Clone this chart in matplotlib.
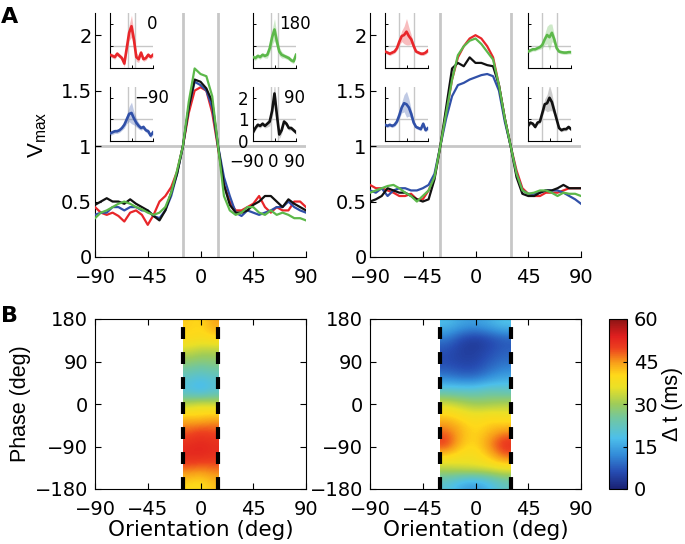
import matplotlib
matplotlib.use('Agg')
import matplotlib.pyplot as plt
from matplotlib.colors import LinearSegmentedColormap
import numpy as np

# horizontal text is slightly wide in the original, DejaVu gives that shape
plt.rcParams['font.family'] = ['DejaVu Sans']
plt.rcParams['font.size'] = 14
plt.rcParams['lines.scale_dashes'] = False
VFONT = ['Liberation Sans', 'DejaVu Sans']

# ---- data ----
ori = list(range(-90, 91, 5))
ori10 = list(range(-90, 91, 10))

# panel A, left (+-15 deg)
left_red = [0.45, 0.40, 0.38, 0.40, 0.37, 0.32, 0.40, 0.42, 0.38, 0.29, 0.38, 0.50, 0.55,
            0.63, 0.77, 1.00, 1.30, 1.50, 1.53, 1.50, 1.30, 0.98, 0.65, 0.50, 0.42, 0.42,
            0.45, 0.48, 0.55, 0.45, 0.40, 0.45, 0.42, 0.42, 0.50, 0.50, 0.45]
left_blue = [0.38, 0.40, 0.40, 0.45, 0.45, 0.42, 0.45, 0.45, 0.42, 0.42, 0.37, 0.35, 0.42,
             0.55, 0.75, 1.00, 1.35, 1.58, 1.55, 1.50, 1.35, 1.00, 0.72, 0.55, 0.40, 0.37,
             0.42, 0.40, 0.38, 0.40, 0.42, 0.45, 0.45, 0.50, 0.45, 0.42, 0.40]
left_black = [0.47, 0.50, 0.53, 0.50, 0.50, 0.48, 0.52, 0.48, 0.45, 0.42, 0.37, 0.33, 0.42,
              0.58, 0.75, 1.00, 1.35, 1.60, 1.58, 1.52, 1.40, 1.00, 0.65, 0.47, 0.40, 0.40,
              0.42, 0.47, 0.50, 0.55, 0.55, 0.50, 0.45, 0.52, 0.48, 0.45, 0.42]
left_green = [0.35, 0.40, 0.42, 0.45, 0.48, 0.50, 0.48, 0.45, 0.43, 0.40, 0.38, 0.40, 0.45,
              0.58, 0.78, 1.00, 1.40, 1.70, 1.65, 1.63, 1.45, 1.00, 0.55, 0.42, 0.38, 0.40,
              0.45, 0.45, 0.40, 0.38, 0.42, 0.38, 0.40, 0.38, 0.35, 0.35, 0.33]

# panel A, right (+-30 deg)
right_red = [0.65, 0.62, 0.62, 0.60, 0.58, 0.55, 0.55, 0.57, 0.52, 0.52, 0.60, 0.72, 1.00,
             1.30, 1.60, 1.80, 1.90, 1.97, 2.00, 1.97, 1.90, 1.80, 1.55, 1.25, 1.00, 0.78,
             0.62, 0.57, 0.55, 0.55, 0.58, 0.58, 0.58, 0.60, 0.62, 0.62, 0.62]
right_blue = [0.60, 0.58, 0.62, 0.55, 0.60, 0.62, 0.62, 0.60, 0.60, 0.62, 0.65, 0.75, 1.00,
              1.25, 1.45, 1.55, 1.57, 1.60, 1.62, 1.64, 1.65, 1.63, 1.50, 1.22, 1.00, 0.75,
              0.60, 0.57, 0.57, 0.58, 0.60, 0.60, 0.60, 0.58, 0.55, 0.52, 0.48]
right_black = [0.50, 0.52, 0.55, 0.62, 0.60, 0.58, 0.58, 0.55, 0.52, 0.50, 0.52, 0.70, 1.00,
               1.35, 1.70, 1.75, 1.72, 1.80, 1.75, 1.75, 1.73, 1.72, 1.55, 1.25, 1.00, 0.72,
               0.57, 0.55, 0.55, 0.58, 0.60, 0.60, 0.62, 0.65, 0.62, 0.62, 0.62]
right_green = [0.58, 0.60, 0.62, 0.64, 0.65, 0.62, 0.58, 0.55, 0.50, 0.55, 0.60, 0.72, 1.00,
               1.30, 1.60, 1.82, 1.90, 1.95, 1.97, 1.92, 1.85, 1.78, 1.55, 1.25, 1.00, 0.75,
               0.60, 0.57, 0.58, 0.60, 0.60, 0.58, 0.55, 0.58, 0.57, 0.57, 0.55]

# insets (single phases), mean and sem
in_left_red = [0.6, 0.55, 0.5, 0.65, 0.55, 0.45, 0.2, 0.9, 1.6, 1.9, 1.3, 0.5, 0.4, 0.7, 0.4, 0.45, 0.6, 0.5, 0.6]
in_left_blue = [0.35, 0.4, 0.45, 0.45, 0.5, 0.6, 0.75, 1.0, 1.25, 1.3, 1.05, 0.85, 0.7, 0.6, 0.65, 0.5, 0.45, 0.25, 0.4]
in_left_green = [0.5, 0.45, 0.55, 0.5, 0.6, 0.55, 0.6, 0.9, 1.4, 1.75, 1.2, 0.75, 0.6, 0.55, 0.5, 0.45, 0.35, 0.3, 0.6]
in_left_black = [0.4, 0.6, 0.75, 0.7, 0.8, 0.7, 0.8, 0.9, 1.4, 2.2, 1.2, 0.3, 0.5, 0.9, 0.8, 0.6, 0.6, 0.5, 0.4]
in_right_red = [0.75, 0.7, 0.65, 0.7, 0.75, 0.9, 1.2, 1.45, 1.5, 1.65, 1.45, 1.3, 1.0, 0.75, 0.7, 0.65, 0.65, 0.7, 0.8]
in_right_blue = [0.75, 0.7, 0.75, 0.7, 0.75, 0.9, 1.2, 1.55, 1.75, 1.7, 1.55, 1.25, 0.85, 0.65, 0.6, 0.55, 0.8, 0.5, 0.6]
in_right_green = [0.75, 0.8, 0.85, 0.85, 0.9, 0.95, 1.05, 1.3, 1.5, 1.4, 1.6, 1.3, 0.9, 0.75, 0.72, 0.7, 0.7, 0.72, 0.72]
in_right_black = [0.7, 0.85, 0.8, 0.65, 0.85, 0.9, 1.3, 1.7, 1.75, 2.0, 1.8, 1.4, 1.0, 0.6, 0.5, 0.55, 0.55, 0.65, 0.55]
sem_left = [0.1, 0.1, 0.1, 0.1, 0.1, 0.1, 0.15, 0.2, 0.35, 0.5, 0.3, 0.2, 0.15, 0.1, 0.1, 0.1, 0.1, 0.1, 0.1]
sem_right = [0.08, 0.08, 0.08, 0.08, 0.08, 0.1, 0.15, 0.25, 0.4, 0.6, 0.4, 0.2, 0.12, 0.08, 0.08, 0.08, 0.08, 0.08, 0.08]
inset_phase_labels = ['0', '\u221290', '180', '90']

# panel B, delay maps (rows: phase 180 -> -180 in 30 deg steps)
phase_ticks = [-180, -90, 0, 90, 180]
dt_ticks = [0, 15, 30, 45, 60]
dt_left = [[41, 40, 44], [40, 39, 40], [33, 31, 31], [27, 26, 27], [21, 19, 21], [18, 15, 19],
           [33, 36, 34], [42, 41, 43], [48, 50, 49], [52, 53, 52], [53, 53, 52], [47, 46, 47],
           [40, 39, 42]]
dt_right = [[18, 15, 14, 16, 19], [10, 5, 3, 5, 7], [6, 4, 4, 6, 8], [6, 5, 5, 8, 10],
            [11, 9, 9, 12, 15], [22, 22, 22, 24, 22], [35, 32, 30, 30, 32], [42, 40, 38, 40, 38],
            [47, 43, 40, 42, 44], [52, 42, 40, 46, 53], [40, 38, 38, 42, 48], [32, 34, 35, 35, 36],
            [20, 15, 13, 17, 22]]

c_red = '#e8262a'
c_blue = '#3050a8'
c_green = '#5cb84a'
c_black = '#111111'
c_gray = '0.78'

cmap = LinearSegmentedColormap.from_list('dt', [
    (0.00, (0.10, 0.13, 0.45)), (0.10, (0.15, 0.30, 0.70)), (0.20, (0.20, 0.55, 0.85)),
    (0.30, (0.30, 0.75, 0.92)), (0.42, (0.45, 0.78, 0.62)), (0.50, (0.62, 0.80, 0.35)),
    (0.60, (0.92, 0.88, 0.15)), (0.67, (1.00, 0.85, 0.10)), (0.75, (0.97, 0.60, 0.10)),
    (0.83, (0.93, 0.25, 0.12)), (0.90, (0.88, 0.12, 0.12)), (1.00, (0.55, 0.08, 0.08))])

W, H = 685, 544
fig = plt.figure(figsize=(W / 100, H / 100), dpi=100)


def px_axes(x0, y0, x1, y1):
    return fig.add_axes([x0 / W, 1 - y1 / H, (x1 - x0) / W, (y1 - y0) / H])


def main_panel(x0, half, curves, insets, inset_x, labels, sem, show_ticklabels):
    ax = px_axes(x0, 13, x0 + 211, 257)
    ax.axhline(1, color=c_gray, lw=2, zorder=1)
    ax.axvline(-half, color=c_gray, lw=2, zorder=1)
    ax.axvline(half, color=c_gray, lw=2, zorder=1)
    for ys, c in zip(curves, [c_red, c_blue, c_black, c_green]):
        ax.plot(ori, ys, color=c, lw=1.6, zorder=3)
    ax.set_xlim(-90, 90)
    ax.set_ylim(0, 2.2)
    ax.set_xticks([-90, -45, 0, 45, 90])
    ax.set_yticks([0, 0.5, 1, 1.5, 2])
    ax.set_yticklabels(['0', '0.5', '1', '1.5', '2'])
    ax.spines['top'].set_visible(False)
    ax.spines['right'].set_visible(False)
    ax.tick_params(direction='in', length=4, width=0.8)
    ax.tick_params(axis='x', pad=8)
    ax.tick_params(axis='y', pad=2.5)
    pos = [(inset_x[0], 13, 68), (inset_x[0], 87, 141), (inset_x[1], 13, 68), (inset_x[1], 87, 141)]
    cols = [c_red, c_blue, c_green, c_black]
    for (ix, iy0, iy1), ys, c, lab in zip(pos, insets, cols, labels):
        ia = px_axes(ix, iy0, ix + 43, iy1)
        ia.patch.set_alpha(0)
        ia.axhline(1, color=c_gray, lw=1, zorder=1)
        ia.axvline(-half, color=c_gray, lw=1, zorder=1)
        ia.axvline(half, color=c_gray, lw=1, zorder=1)
        lo = np.array(ys) - np.array(sem)
        hi = np.array(ys) + np.array(sem)
        if c == c_black:
            ia.fill_between(ori10, lo, hi, color='0.8', lw=0, zorder=2)
        else:
            ia.fill_between(ori10, lo, hi, color=c, alpha=0.3, lw=0, zorder=2)
        ia.plot(ori10, ys, color=c, lw=1.9, zorder=3)
        ia.set_xlim(-90, 90)
        ia.set_ylim(0, 2.5)
        ia.set_xticks([-90, 0, 90])
        ia.set_yticks([0, 1, 2])
        ia.spines['top'].set_visible(False)
        ia.spines['right'].set_visible(False)
        ia.tick_params(direction='in', length=2.5, width=0.7, pad=3, labelsize=12)
        ia.set_xticklabels([])
        if show_ticklabels and c == c_black:
            ia.set_yticklabels(['0', '1', '2'])
            for xf, t in zip([-0.14, 0.47, 0.97], ['\u221290', '0', '90']):
                ia.text(xf, -0.38, t, transform=ia.transAxes, ha='center', va='center', fontsize=12)
        else:
            ia.set_yticklabels([])
        if lab:
            ia.text(0.97, 0.8, lab, transform=ia.transAxes, ha='center', va='center', fontsize=12)
    return ax


axA1 = main_panel(95, 15, [left_red, left_blue, left_black, left_green],
                  [in_left_red, in_left_blue, in_left_green, in_left_black], (110, 253),
                  inset_phase_labels, sem_left, True)
axA1.set_ylabel('$\\mathregular{V_{max}}$', labelpad=8, fontsize=16, family=VFONT)

axA2 = main_panel(370, 30, [right_red, right_blue, right_black, right_green],
                  [in_right_red, in_right_blue, in_right_green, in_right_black], (385, 528),
                  [None, None, None, None], sem_right, False)


def map_panel(x0, half, data):
    ax = px_axes(x0, 319, x0 + 211, 489)
    im = ax.imshow(np.array(data), extent=[-half, half, -180, 180], aspect='auto',
                   cmap=cmap, vmin=0, vmax=60, interpolation='bicubic', zorder=1)
    for xv in (-half, half):
        ax.axvline(xv, color='k', lw=3, dashes=(8.6, 9.4), zorder=3)
    ax.set_xlim(-90, 90)
    ax.set_ylim(-180, 180)
    ax.set_xticks([-90, -45, 0, 45, 90])
    ax.set_yticks(phase_ticks)
    ax.tick_params(top=True, right=True, direction='in', length=4, width=0.8)
    ax.tick_params(axis='x', pad=8)
    ax.tick_params(axis='y', pad=5)
    ax.set_xlabel('Orientation (deg)', labelpad=1, fontsize=15.5)
    return ax, im


axB1, im1 = map_panel(95, 15, dt_left)
axB1.set_ylabel('Phase (deg)', labelpad=3, fontsize=15.5, family=VFONT)
axB2, im2 = map_panel(370, 30, dt_right)

cax = px_axes(609, 319, 627, 489)
cb = fig.colorbar(im2, cax=cax, ticks=dt_ticks)
cb.outline.set_linewidth(0.8)
cax.tick_params(direction='in', length=3, width=0.8, pad=5)
cb.set_label('\u0394 t (ms)', labelpad=2, fontsize=15.5, family=VFONT)

fig.text(1 / W, 1 - 17 / H, 'A', fontsize=16, fontweight='bold', va='center')
fig.text(1 / W, 1 - 316 / H, 'B', fontsize=16, fontweight='bold', va='center')

fig.savefig('out.png', dpi=100)
